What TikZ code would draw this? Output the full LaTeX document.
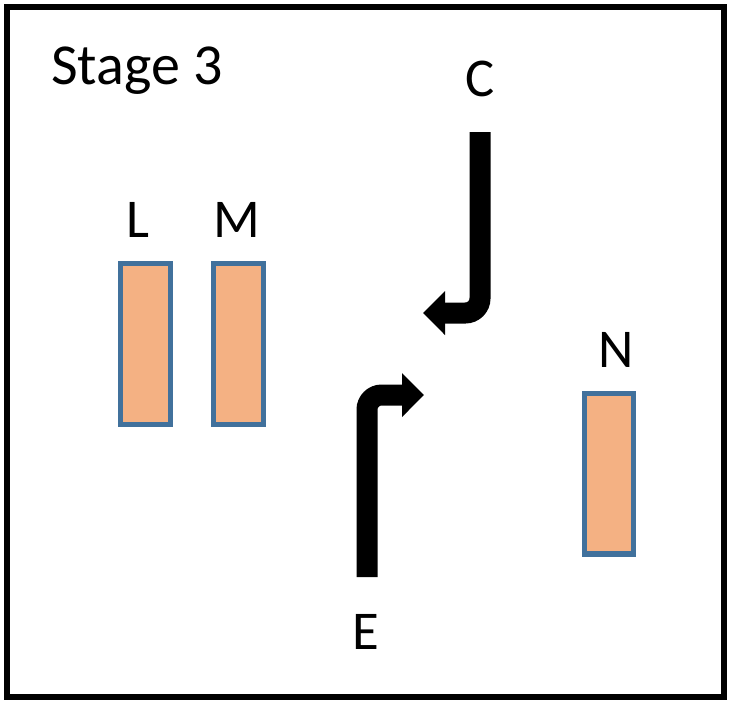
\documentclass[tikz,border=0pt]{standalone}
\usepackage{fontspec}
\setmainfont{Carlito}
\usetikzlibrary{arrows.meta}
\definecolor{barfill}{RGB}{244,177,131}
\definecolor{barline}{RGB}{65,113,156}
\begin{document}
\begin{tikzpicture}[x=0.75pt,y=-0.75pt,
  lbl/.style={inner sep=0pt,font=\fontsize{41pt}{49pt}\selectfont},
  bar/.style={draw=barline,fill=barfill,line width=4pt,inner sep=0pt,
    minimum width=37.5pt,minimum height=120.5pt},
  turn/.style={line width=15.75pt,rounded corners=11pt,
    -{Triangle[length=16.5pt,width=32pt]}}]
  \useasboundingbox (0,0) rectangle (731,704);
  % outer frame
  \draw[line width=4.5pt] (7,7) rectangle (724,697);
  % title
  \node[lbl,anchor=base west,font=\fontsize{43.5pt}{52pt}\selectfont] (title) at (51,84) {Stage 3};
  % bars and their letters
  \node[bar] (L) at (145.5,344) {};
  \node[bar] (M) at (238.5,344) {};
  \node[bar,minimum width=36.75pt] (N) at (609,473.5) {};
  \node[lbl] (lL) at (138,220) {L};
  \node[lbl] (lM) at (237,220) {M};
  \node[lbl] (lN) at (616,350) {N};
  \node[lbl] (lC) at (480,79) {C};
  \node[lbl] (lE) at (366,632) {E};
  % bent arrows
  \coordinate (cTop) at (480,132);
  \coordinate (cBend) at (480,313);
  \coordinate (cTip) at (423,313);
  \coordinate (eBot) at (367,577);
  \coordinate (eBend) at (367,395);
  \coordinate (eTip) at (424,395);
  \draw[turn] (cTop) -- (cBend) -- (cTip);
  \draw[turn] (eBot) -- (eBend) -- (eTip);
\end{tikzpicture}
\end{document}
